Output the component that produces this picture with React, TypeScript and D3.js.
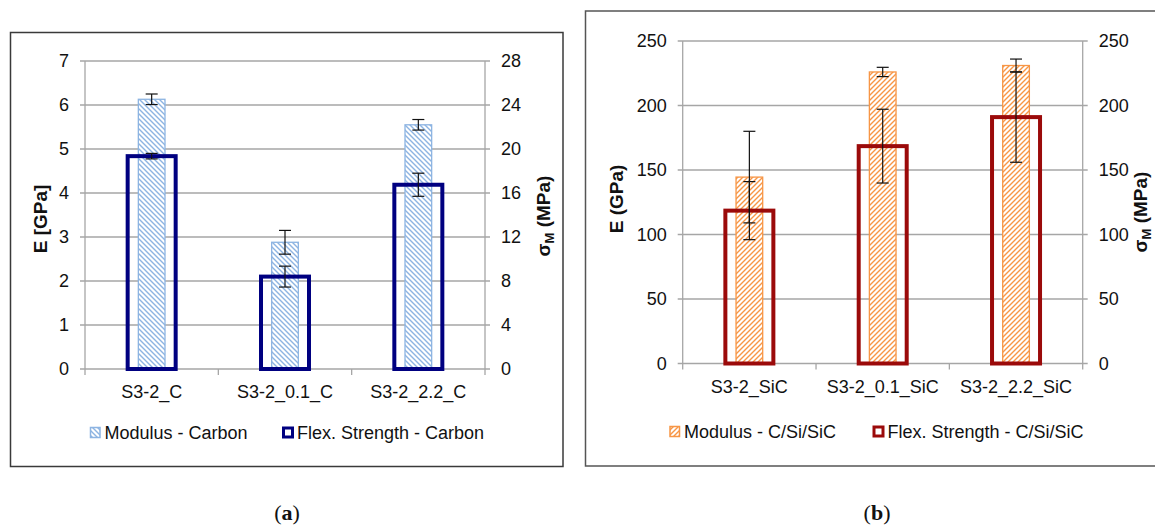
import * as d3 from "d3";

// panel (a) - carbon
const categoriesA = ["S3-2_C", "S3-2_0.1_C", "S3-2_2.2_C"];
const modulusA = [6.13, 2.88, 5.55];
const modulusErrA = [0.12, 0.27, 0.12];
const strengthA = [19.35, 8.4, 16.75];
const strengthErrA = [0.25, 0.95, 1.05];
const leftTicksA = [0, 1, 2, 3, 4, 5, 6, 7];
const rightTicksA = [0, 4, 8, 12, 16, 20, 24, 28];

// panel (b) - C/Si/SiC
const categoriesB = ["S3-2_SiC", "S3-2_0.1_SiC", "S3-2_2.2_SiC"];
const modulusB = [144.5, 226, 231];
const modulusErrB = [35.5, 3.6, 5];
const strengthB = [118.5, 168.5, 191];
const strengthErrB = [22.5, 28.6, 35];
const leftTicksB = [0, 50, 100, 150, 200, 250];
const rightTicksB = [0, 50, 100, 150, 200, 250];

const FONT = "'Liberation Sans', Arial, sans-serif";

function Panel(props: any) {
  const p = props.cfg;
  const x = d3.scaleBand().domain(p.categories).range([p.left, p.right]).padding(0);
  const yL = d3.scaleLinear().domain([0, p.leftTicks[p.leftTicks.length - 1]]).range([p.bottom, p.top]);
  const yR = d3.scaleLinear().domain([0, p.rightTicks[p.rightTicks.length - 1]]).range([p.bottom, p.top]);
  const bw = x.bandwidth();
  const mw = bw * 0.2;
  const sw = bw * 0.36;
  const cap = 6;
  const grid = "#a6a6a6";

  return (
    <g>
      <rect x={p.frame[0]} y={p.frame[1]} width={p.frame[2]} height={p.frame[3]} fill="white" stroke={p.frameColor} strokeWidth={1.5} />
      {/* gridlines */}
      {p.leftTicks.map((t: number, i: number) => (
        <line key={"g" + i} x1={p.left - 5} x2={p.right + 5} y1={yL(t)} y2={yL(t)} stroke={grid} strokeWidth={1.3} />
      ))}
      <line x1={p.left} x2={p.left} y1={p.top} y2={p.bottom} stroke={grid} strokeWidth={1.3} />
      <line x1={p.right} x2={p.right} y1={p.top} y2={p.bottom} stroke={grid} strokeWidth={1.3} />
      {[0, 1, 2, 3].map((i) => (
        <line key={"xt" + i} x1={p.left + bw * i} x2={p.left + bw * i} y1={p.bottom} y2={p.bottom + 6} stroke={grid} strokeWidth={1.3} />
      ))}
      {p.leftTicks.map((t: number, i: number) => (
        <text key={"lt" + i} x={p.left - 16} y={yL(t)} dy="0.35em" textAnchor="end" fontSize={18} fontFamily={FONT} fill="#111">{t}</text>
      ))}
      {p.rightTicks.map((t: number, i: number) => (
        <text key={"rt" + i} x={p.right + 16} y={yR(t)} dy="0.35em" textAnchor="start" fontSize={18} fontFamily={FONT} fill="#111">{t}</text>
      ))}
      {p.categories.map((c: string, i: number) => (
        <text key={"c" + i} x={x(c)! + bw / 2} y={p.bottom + 23} dy="0.35em" textAnchor="middle" fontSize={18} fontFamily={FONT} fill="#111">{c}</text>
      ))}
      {/* modulus bars */}
      {p.categories.map((c: string, i: number) => (
        <rect key={"m" + i} x={x(c)! + bw / 2 - mw / 2} y={yL(p.modulus[i])} width={mw} height={p.bottom - yL(p.modulus[i])}
          fill={`url(#${p.id}-hatch)`} stroke={p.modColor} strokeWidth={1.3} />
      ))}
      {/* strength bars */}
      {p.categories.map((c: string, i: number) => (
        <rect key={"s" + i} x={x(c)! + bw / 2 - sw / 2} y={yR(p.strength[i])} width={sw} height={p.bottom - yR(p.strength[i])}
          fill="none" stroke={p.strColor} strokeWidth={4} />
      ))}
      {/* error bars */}
      {p.categories.map((c: string, i: number) => {
        const cx = x(c)! + bw / 2;
        const a = yL(p.modulus[i] + p.modulusErr[i]);
        const b = yL(p.modulus[i] - p.modulusErr[i]);
        const s1 = yR(p.strength[i] + p.strengthErr[i]);
        const s2 = yR(p.strength[i] - p.strengthErr[i]);
        return (
          <g key={"e" + i} stroke="#111" strokeWidth={1.2}>
            <line x1={cx} x2={cx} y1={a} y2={b} />
            <line x1={cx - cap} x2={cx + cap} y1={a} y2={a} />
            <line x1={cx - cap} x2={cx + cap} y1={b} y2={b} />
            <line x1={cx} x2={cx} y1={s1} y2={s2} />
            <line x1={cx - cap} x2={cx + cap} y1={s1} y2={s1} />
            <line x1={cx - cap} x2={cx + cap} y1={s2} y2={s2} />
          </g>
        );
      })}
      {/* axis titles */}
      <text transform={`translate(${p.leftTitleX},${p.leftTitleY}) rotate(-90)`} textAnchor="middle" dy="0.35em" fontSize={19} fontWeight="bold" fontFamily={FONT} fill="#111">{p.leftTitle}</text>
      <text transform={`translate(${p.rightTitleX},${p.rightTitleY}) rotate(-90)`} textAnchor="middle" dy="0.3em" fontSize={19} fontWeight="bold" fontFamily={FONT} fill="#111">
        σ<tspan fontSize={13} dy="4">M</tspan><tspan dy="-4"> (MPa)</tspan>
      </text>
      {/* legend */}
      <rect x={p.leg1X} y={p.legY - 5} width={9.5} height={10} fill={`url(#${p.id}-hatch)`} stroke={p.modColor} strokeWidth={1.5} />
      <text x={p.leg1X + 14} y={p.legY} dy="0.35em" fontSize={18} fontFamily={FONT} fill="#111">{p.modLabel}</text>
      <rect x={p.leg2X + 1.5} y={p.legY - 4.5} width={9} height={9} fill="white" stroke={p.strColor} strokeWidth={3} />
      <text x={p.leg2X + 15} y={p.legY} dy="0.35em" fontSize={18} fontFamily={FONT} fill="#111">{p.strLabel}</text>
      {/* caption */}
      <text x={p.capX} y={512} dy="0.35em" textAnchor="middle" fontSize={22} fontFamily="'Liberation Serif', serif" fill="#111">
        (<tspan fontWeight="bold">{p.capLetter}</tspan>)
      </text>
    </g>
  );
}

const cfgA = {
  id: "a", categories: categoriesA, modulus: modulusA, modulusErr: modulusErrA,
  strength: strengthA, strengthErr: strengthErrA, leftTicks: leftTicksA, rightTicks: rightTicksA,
  left: 85, right: 485, top: 61, bottom: 369,
  frame: [10.5, 32.5, 552.5, 434], frameColor: "#3a3a3a",
  modColor: "#8db4e2", strColor: "#000080",
  leftTitle: "E [GPa]", leftTitleX: 40, leftTitleY: 219, rightTitleX: 544, rightTitleY: 216,
  leg1X: 90.5, leg2X: 282, legY: 432.5,
  modLabel: "Modulus - Carbon", strLabel: "Flex. Strength - Carbon",
  capX: 287, capLetter: "a",
};

const cfgB = {
  id: "b", categories: categoriesB, modulus: modulusB, modulusErr: modulusErrB,
  strength: strengthB, strengthErr: strengthErrB, leftTicks: leftTicksB, rightTicks: rightTicksB,
  left: 682.7, right: 1082.7, top: 41, bottom: 363.5,
  frame: [585.5, 11, 600, 455], frameColor: "#555",
  modColor: "#f79646", strColor: "#9b0a0a",
  leftTitle: "E (GPa)", leftTitleX: 616, leftTitleY: 199, rightTitleX: 1141, rightTitleY: 212,
  leg1X: 670, leg2X: 872.5, legY: 431.5,
  modLabel: "Modulus - C/Si/SiC", strLabel: "Flex. Strength - C/Si/SiC",
  capX: 877, capLetter: "b",
};

export default function App() {
  return (
    <div style={{ position: "absolute", left: 0, top: 0 }}>
      <svg width={1155} height={526} style={{ display: "block", background: "white" }}>
        <defs>
          <pattern id="a-hatch" width="5" height="5" patternUnits="userSpaceOnUse">
            <rect width="5" height="5" fill="white" />
            <path d="M-1,-1 L6,6 M-1,4 L1,6 M4,-1 L6,1" stroke="#8db4e2" strokeWidth="1.4" />
          </pattern>
          <pattern id="b-hatch" width="5" height="5" patternUnits="userSpaceOnUse">
            <rect width="5" height="5" fill="white" />
            <path d="M-1,6 L6,-1 M-1,1 L1,-1 M4,6 L6,4" stroke="#f79646" strokeWidth="1.4" />
          </pattern>
        </defs>
        <Panel cfg={cfgA} />
        <Panel cfg={cfgB} />
      </svg>
    </div>
  );
}
